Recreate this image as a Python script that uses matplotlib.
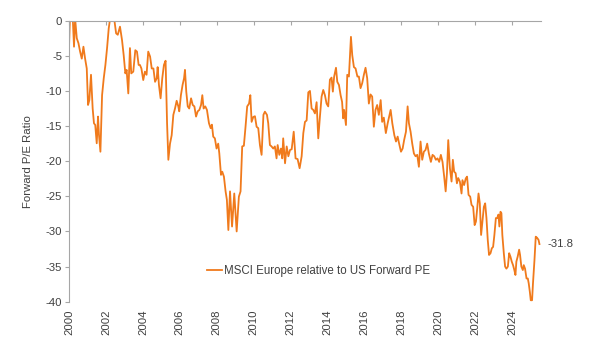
"""MSCI Europe forward P/E relative to the US, 2000 to 2025."""

import matplotlib

matplotlib.use("Agg")
import matplotlib.pyplot as plt

# Time axis as decimal years.
years = [
    2000.00, 2000.05, 2000.20, 2000.27, 2000.33, 2000.42, 2000.51, 2000.60,
    2000.69, 2000.78, 2000.87, 2000.96, 2001.03, 2001.10, 2001.19, 2001.28,
    2001.35, 2001.42, 2001.50, 2001.57, 2001.62, 2001.70, 2001.79, 2001.88,
    2001.97, 2002.06, 2002.15, 2002.22, 2002.33, 2002.45, 2002.55, 2002.64,
    2002.76, 2002.87, 2002.96, 2003.05, 2003.12, 2003.21, 2003.30, 2003.37,
    2003.48, 2003.59, 2003.68, 2003.77, 2003.84, 2003.92, 2004.02, 2004.11,
    2004.20, 2004.29, 2004.39, 2004.48, 2004.57, 2004.66, 2004.75, 2004.80,
    2004.87, 2004.96, 2005.05, 2005.14, 2005.23, 2005.31, 2005.38, 2005.47,
    2005.56, 2005.65, 2005.74, 2005.83, 2005.92, 2005.97, 2006.06, 2006.15,
    2006.23, 2006.28, 2006.35, 2006.43, 2006.51, 2006.61, 2006.70, 2006.79,
    2006.88, 2006.97, 2007.06, 2007.15, 2007.22, 2007.29, 2007.38, 2007.47,
    2007.58, 2007.67, 2007.74, 2007.81, 2007.90, 2007.99, 2008.08, 2008.14,
    2008.23, 2008.30, 2008.39, 2008.48, 2008.55, 2008.63, 2008.72, 2008.83,
    2008.95, 2009.08, 2009.20, 2009.29, 2009.38, 2009.47, 2009.56, 2009.65,
    2009.75, 2009.82, 2009.89, 2009.98, 2010.07, 2010.16, 2010.25, 2010.34,
    2010.43, 2010.53, 2010.61, 2010.72, 2010.79, 2010.88, 2010.97, 2011.06,
    2011.15, 2011.24, 2011.30, 2011.39, 2011.48, 2011.55, 2011.60, 2011.70,
    2011.79, 2011.88, 2011.97, 2012.06, 2012.17, 2012.27, 2012.38, 2012.49,
    2012.60, 2012.69, 2012.78, 2012.87, 2012.96, 2013.05, 2013.14, 2013.23,
    2013.32, 2013.41, 2013.50, 2013.59, 2013.68, 2013.77, 2013.86, 2013.95,
    2014.04, 2014.13, 2014.22, 2014.29, 2014.36, 2014.46, 2014.53, 2014.62,
    2014.71, 2014.79, 2014.85, 2014.90, 2015.00, 2015.07, 2015.16, 2015.21,
    2015.27, 2015.34, 2015.43, 2015.52, 2015.62, 2015.70, 2015.79, 2015.88,
    2015.97, 2016.06, 2016.15, 2016.24, 2016.33, 2016.42, 2016.51, 2016.60,
    2016.69, 2016.78, 2016.88, 2016.96, 2017.05, 2017.16, 2017.26, 2017.42,
    2017.51, 2017.62, 2017.71, 2017.80, 2017.88, 2017.98, 2018.07, 2018.15,
    2018.25, 2018.34, 2018.41, 2018.50, 2018.59, 2018.68, 2018.77, 2018.86,
    2018.95, 2019.04, 2019.13, 2019.22, 2019.31, 2019.40, 2019.49, 2019.60,
    2019.69, 2019.78, 2019.87, 2019.96, 2020.05, 2020.14, 2020.23, 2020.32,
    2020.40, 2020.47, 2020.54, 2020.63, 2020.72, 2020.79, 2020.86, 2020.94,
    2021.01, 2021.08, 2021.17, 2021.26, 2021.31, 2021.40, 2021.49, 2021.56,
    2021.64, 2021.73, 2021.80, 2021.89, 2021.97, 2022.04, 2022.11, 2022.18,
    2022.25, 2022.32, 2022.40, 2022.47, 2022.54, 2022.61, 2022.68, 2022.75,
    2022.83, 2022.90, 2022.97, 2023.04, 2023.12, 2023.19, 2023.26, 2023.31,
    2023.37, 2023.42, 2023.47, 2023.55, 2023.62, 2023.69, 2023.77, 2023.84,
    2023.91, 2023.98, 2024.05, 2024.12, 2024.18, 2024.23, 2024.30, 2024.38,
    2024.43, 2024.50, 2024.58, 2024.63, 2024.70, 2024.78, 2024.85, 2024.90,
    2024.96, 2025.01, 2025.08, 2025.13, 2025.21, 2025.28, 2025.35, 2025.43,
    2025.48,
]

# Europe minus US forward P/E (values above 0 are clipped by the axis).
fwd_pe_diff = [
    -3.7, 0.5, 0.5, -3.7, 0.3, -2.5, -3.2, -4.4,
    -5.4, -3.7, -5.4, -6.8, -12.0, -11.3, -7.7, -12.5,
    -14.6, -14.85, -17.45, -13.65, -16.2, -18.65, -10.6, -8.2,
    -6.3, -3.9, -1.1, 0.2, 0.8, 0.2, -1.8, -2.0,
    -0.85, -2.75, -4.9, -7.5, -7.0, -10.35, -3.9, -7.5,
    -7.25, -4.2, -4.4, -6.3, -6.3, -6.8, -8.45, -7.25,
    -7.7, -4.4, -5.1, -6.8, -6.8, -8.7, -8.2, -6.6,
    -9.15, -11.05, -8.2, -6.3, -5.7, -14.6, -19.8, -17.5,
    -16.3, -13.4, -12.5, -11.4, -12.2, -12.9, -10.6, -9.15,
    -8.2, -7.0, -10.1, -12.2, -12.5, -11.05, -12.0, -12.2,
    -13.65, -12.9, -12.7, -12.0, -10.6, -12.5, -12.2, -12.7,
    -14.6, -15.3, -14.8, -16.5, -16.75, -18.2, -17.5, -18.9,
    -21.95, -21.5, -22.2, -24.3, -25.5, -29.8, -24.3, -29.3,
    -24.6, -30.0, -25.05, -24.3, -17.9, -17.8, -15.1, -12.2,
    -11.8, -10.6, -14.4, -13.7, -13.6, -15.1, -15.3, -17.7,
    -19.1, -13.4, -12.95, -13.4, -14.6, -17.7, -17.9, -18.2,
    -17.9, -19.6, -17.7, -19.1, -18.2, -19.6, -16.75, -20.3,
    -17.9, -19.3, -18.4, -18.3, -15.8, -19.6, -19.7, -21.0,
    -19.3, -16.0, -14.4, -14.2, -10.2, -10.0, -12.5, -12.7,
    -13.2, -11.6, -16.75, -13.65, -10.8, -9.86, -10.6, -11.8,
    -12.2, -8.4, -8.1, -10.1, -7.95, -6.7, -8.7, -9.15,
    -10.6, -11.55, -13.9, -12.7, -14.85, -7.7, -7.95, -5.4,
    -2.3, -4.9, -6.6, -6.8, -7.95, -7.95, -9.6, -8.9,
    -7.7, -6.7, -8.2, -11.8, -10.5, -10.8, -15.1, -12.7,
    -12.0, -13.4, -11.3, -14.4, -13.8, -16.0, -14.6, -12.7,
    -14.6, -16.3, -17.2, -16.5, -17.5, -18.65, -18.2, -17.0,
    -15.8, -12.2, -14.6, -15.8, -17.5, -18.9, -19.3, -19.1,
    -20.8, -17.2, -19.8, -18.65, -18.4, -17.5, -18.9, -20.1,
    -19.1, -19.3, -19.8, -19.6, -20.1, -19.1, -20.1, -22.2,
    -24.3, -21.7, -17.0, -21.0, -22.9, -19.8, -21.5, -21.7,
    -23.15, -22.4, -22.9, -24.6, -22.7, -23.4, -22.45, -22.2,
    -24.8, -25.05, -26.2, -26.5, -29.1, -28.6, -26.7, -24.6,
    -26.0, -30.5, -28.4, -26.5, -26.0, -28.1, -31.2, -33.35,
    -33.1, -32.4, -32.2, -30.5, -28.1, -28.1, -27.6, -29.3,
    -27.2, -27.4, -30.5, -33.1, -35.0, -35.3, -35.0, -33.1,
    -33.6, -34.3, -34.8, -35.5, -36.2, -34.3, -33.6, -32.6,
    -33.35, -35.0, -35.5, -34.8, -35.3, -36.7, -36.7, -37.4,
    -38.6, -39.8, -39.8, -37.4, -34.1, -30.75, -30.9, -31.2,
    -31.8,
]

year_ticks = list(range(2000, 2025, 2))
value_ticks = [0, -5, -10, -15, -20, -25, -30, -35, -40]
series_label = "MSCI Europe relative to US Forward PE"
last_label = "-31.8"

LINE_COLOR = "#F07A1C"
AXIS_COLOR = "#A6A6A6"
TEXT_COLOR = "#404040"

plt.rcParams["font.family"] = ["Liberation Sans", "DejaVu Sans"]
plt.rcParams["axes.unicode_minus"] = False

fig = plt.figure(figsize=(5.9, 3.57), dpi=100)
ax = fig.add_axes([0.117, 0.155, 0.7995, 0.787])

ax.plot(years, fwd_pe_diff, color=LINE_COLOR, linewidth=1.3, label=series_label)

ax.set_xlim(2000, 2025.55)
ax.set_ylim(-40, 0)
ax.set_xticks(year_ticks)
ax.set_xticklabels([str(y) for y in year_ticks], rotation=90)
ax.set_yticks(value_ticks)

# Excel style: the category axis sits at 0 (top), labels stay low.
for side in ("right", "bottom"):
    ax.spines[side].set_visible(False)
for side in ("left", "top"):
    ax.spines[side].set_color(AXIS_COLOR)
    ax.spines[side].set_linewidth(0.8)

ax.tick_params(axis="x", bottom=False, top=True, labelbottom=True,
               labeltop=False, direction="in", length=3, color=AXIS_COLOR,
               labelsize=8.2, labelcolor=TEXT_COLOR, pad=6)
ax.tick_params(axis="y", direction="out", length=3, color=AXIS_COLOR,
               labelsize=8.2, labelcolor=TEXT_COLOR, pad=2)

ax.set_ylabel("Forward P/E Ratio", fontsize=8.2, color=TEXT_COLOR, labelpad=9)

ax.annotate(last_label, xy=(years[-1], fwd_pe_diff[-1]), xytext=(6, 0),
            textcoords="offset points", va="center", ha="left",
            fontsize=8.2, color=TEXT_COLOR, annotation_clip=False)

ax.legend(loc="upper left", bbox_to_anchor=(0.28, 0.15), frameon=False,
          fontsize=8.3, handlelength=1.3, handletextpad=0.2, borderpad=0,
          labelcolor=TEXT_COLOR)

fig.savefig("out.png", dpi=100)
